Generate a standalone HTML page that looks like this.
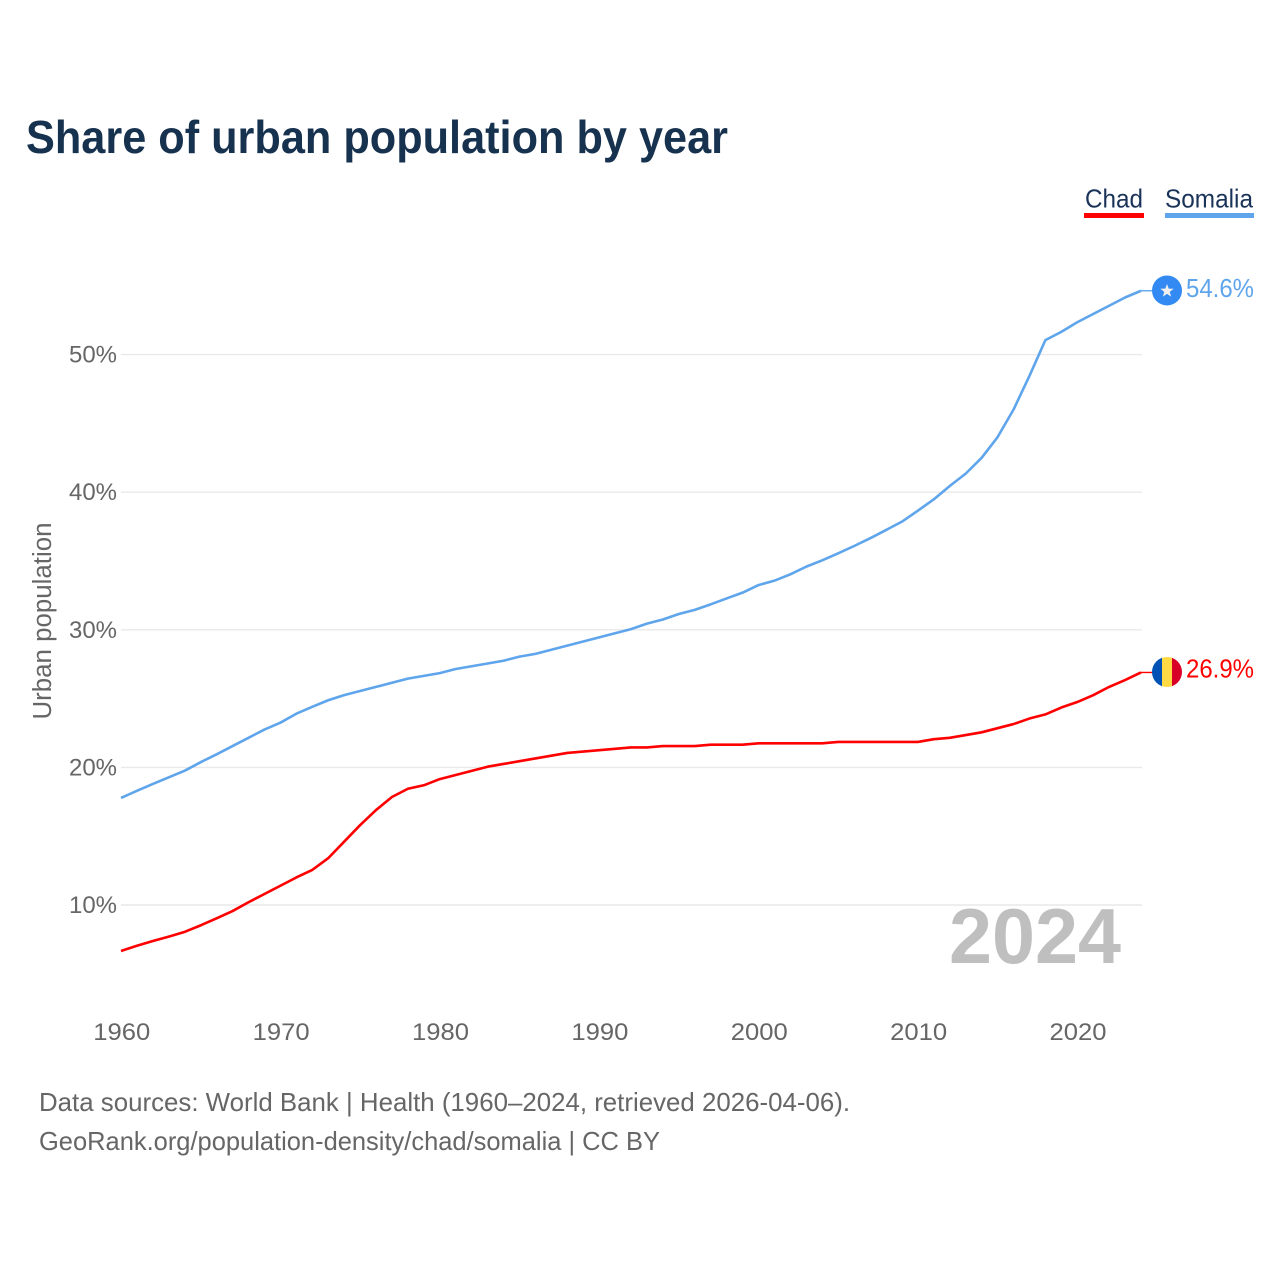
<!DOCTYPE html>
<html lang="en">
<head>
<meta charset="utf-8">
<title>Share of urban population by year</title>
<style>
html,body{margin:0;padding:0;background:#fff;}
svg{display:block;}
text{font-family:"Liberation Sans",sans-serif;}
</style>
</head>
<body>
<svg id="chart" xmlns="http://www.w3.org/2000/svg" width="1280" height="1280" viewBox="0 0 1280 1280">
  <rect x="0" y="0" width="1280" height="1280" fill="#ffffff"/>
  <text x="26" y="153" font-size="46" font-weight="700" fill="#17324f" textLength="702" lengthAdjust="spacingAndGlyphs">Share of urban population by year</text>

  <g>
    <text x="1085" y="207.5" font-size="26" fill="#1a3358" textLength="58" lengthAdjust="spacingAndGlyphs">Chad</text>
    <rect x="1084" y="213" width="60" height="5" fill="#ff0000"/>
  </g>
  <g>
    <text x="1165" y="207.5" font-size="26" fill="#1a3358" textLength="88" lengthAdjust="spacingAndGlyphs">Somalia</text>
    <rect x="1165" y="213" width="89" height="5" fill="#5fa5ec"/>
  </g>

  <g id="grid"></g>
  <g id="yticks"></g>
  <g id="xticks"></g>
  <text transform="translate(51,621) rotate(-90)" text-anchor="middle" font-size="25.5" fill="#666666" textLength="197" lengthAdjust="spacingAndGlyphs">Urban population</text>
  <text id="watermark" x="1121" y="963" text-anchor="end" font-size="78" font-weight="700" fill="#bfbfbf" textLength="172" lengthAdjust="spacingAndGlyphs"></text>
  <g id="series"></g>
  <g id="ends"></g>

  <text x="39" y="1111" font-size="26" fill="#666666" textLength="811" lengthAdjust="spacingAndGlyphs">Data sources: World Bank | Health (1960–2024, retrieved 2026-04-06).</text>
  <text x="39" y="1150" font-size="26" fill="#666666" textLength="621" lengthAdjust="spacingAndGlyphs">GeoRank.org/population-density/chad/somalia | CC BY</text>
</svg>
<script>
const startYear = 1960;
const chadValues = [6.66,7.04,7.38,7.7,8.05,8.52,9.03,9.56,10.2,10.8,11.4,12.0,12.55,13.4,14.6,15.8,16.9,17.85,18.45,18.7,19.15,19.45,19.75,20.05,20.25,20.45,20.65,20.85,21.05,21.15,21.25,21.35,21.45,21.45,21.55,21.55,21.55,21.65,21.65,21.65,21.75,21.75,21.75,21.75,21.75,21.85,21.85,21.85,21.85,21.85,21.85,22.05,22.15,22.35,22.55,22.85,23.15,23.55,23.85,24.35,24.75,25.25,25.85,26.35,26.9];
const somaliaValues = [17.78,18.3,18.8,19.28,19.76,20.38,20.95,21.55,22.15,22.75,23.25,23.9,24.4,24.88,25.25,25.55,25.85,26.15,26.45,26.65,26.85,27.15,27.35,27.55,27.75,28.05,28.25,28.55,28.85,29.15,29.45,29.75,30.05,30.45,30.75,31.15,31.45,31.85,32.28,32.7,33.25,33.57,34.03,34.59,35.05,35.56,36.09,36.65,37.25,37.86,38.66,39.48,40.45,41.35,42.5,44.0,46.0,48.45,51.05,51.65,52.35,52.95,53.55,54.15,54.64];
const xTickYears = [1960,1970,1980,1990,2000,2010,2020];
const yTickValues = [10,20,30,40,50];

const SVG_NS = 'http://www.w3.org/2000/svg';
function xScale(year){ return 121 + (year - 1960) * (1020 / 64); }
function yScale(v){ return 1042.6 - v * 13.76; }
function make(tag, parent, attrs){
  const el = document.createElementNS(SVG_NS, tag);
  for (const k in attrs) el.setAttribute(k, attrs[k]);
  parent.appendChild(el);
  return el;
}
const grid = document.getElementById('grid');
const yticks = document.getElementById('yticks');
const xticks = document.getElementById('xticks');
const seriesGroup = document.getElementById('series');
const ends = document.getElementById('ends');

yTickValues.forEach(function(v){
  const line = make('line', grid, {x1:121, x2:1142, y1:yScale(v), y2:yScale(v), stroke:'#e9e9e9', 'stroke-width':1.4});
  
  
  const label = make('text', yticks, {x:69, y:yScale(v) + 8, 'font-size':24.5, fill:'#666666', textLength:48, lengthAdjust:'spacingAndGlyphs'});
  label.textContent = v + '%';
  
  
});
xTickYears.forEach(function(year){
  const label = make('text', xticks, {x:xScale(year) + 0.8, y:1040, 'text-anchor':'middle', 'font-size':24.5, fill:'#666666', textLength:57, lengthAdjust:'spacingAndGlyphs'});
  label.textContent = String(year);
  
  
});

function pathFor(values){
  return values.map(function(v, i){
    return (i ? 'L' : 'M') + xScale(startYear + i).toFixed(2) + ' ' + yScale(v).toFixed(2);
  }).join(' ');
}
const chadLine = make('path', seriesGroup, {d:pathFor(chadValues), fill:'none', stroke:'#ff0000', 'stroke-width':2.6, 'stroke-linejoin':'round'});


const somaliaLine = make('path', seriesGroup, {d:pathFor(somaliaValues), fill:'none', stroke:'#5fa5ec', 'stroke-width':2.6, 'stroke-linejoin':'round'});



const lastIndex = chadValues.length - 1;
const lastYear = startYear + lastIndex;
document.getElementById('watermark').textContent = String(lastYear);
const endX = xScale(lastYear);
const flagX = endX + 26;

/* Somalia end marker */
const sv = somaliaValues[lastIndex];
const sy = yScale(sv);
const sConn = make('line', ends, {x1:endX, x2:flagX - 14, y1:sy, y2:sy, stroke:'#5fa5ec', 'stroke-width':1.4});


const sFlag = make('circle', ends, {cx:flagX, cy:sy - 0.3, r:15, fill:'#338af3'});


const starPts = [];
for (let i = 0; i < 10; i++) {
  const rad = i % 2 ? 2.9 : 7;
  const a = -Math.PI / 2 + i * Math.PI / 5;
  starPts.push((flagX + rad * Math.cos(a)).toFixed(2) + ',' + (sy + 0.2 + rad * Math.sin(a)).toFixed(2));
}
const sStar = make('polygon', ends, {points:starPts.join(' '), fill:'#f0f0f0'});


const sLabel = make('text', ends, {x:1186, y:sy + 6, 'font-size':26, fill:'#5fa5ec', textLength:68, lengthAdjust:'spacingAndGlyphs'});
sLabel.textContent = sv.toFixed(1) + '%';



/* Chad end marker */
const cv = chadValues[lastIndex];
const cy = yScale(cv);
const cConn = make('line', ends, {x1:endX, x2:flagX - 14, y1:cy, y2:cy, stroke:'#ff0000', 'stroke-width':1.4});


const clip = make('clipPath', ends, {id:'chad-clip'});
make('circle', clip, {cx:flagX, cy:cy - 0.5, r:15});
const cFlag = make('g', ends, {'clip-path':'url(#chad-clip)'});


const cBlue = make('rect', cFlag, {x:flagX - 15, y:cy - 16, width:10, height:31, fill:'#0052b4'});


const cYellow = make('rect', cFlag, {x:flagX - 5, y:cy - 16, width:10, height:31, fill:'#ffda44'});


const cRed = make('rect', cFlag, {x:flagX + 5, y:cy - 16, width:10, height:31, fill:'#d80027'});


const cLabel = make('text', ends, {x:1186, y:cy + 5.2, 'font-size':26, fill:'#ff0000', textLength:68, lengthAdjust:'spacingAndGlyphs'});
cLabel.textContent = cv.toFixed(1) + '%';


</script>
</body>
</html>
